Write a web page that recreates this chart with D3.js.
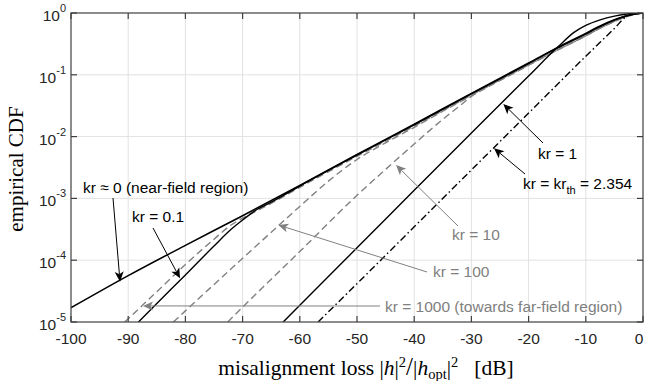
<!DOCTYPE html>
<html><head><meta charset="utf-8">
<script src="https://cdn.jsdelivr.net/npm/d3@7"></script>
<style>body{margin:0;background:#fff} svg{display:block}</style>
</head><body><svg id="c" width="645" height="381"></svg>
<script>
// ---- data (misalignment loss in dB, log10 of empirical CDF) ----
const xTickValues = [-100,-90,-80,-70,-60,-50,-40,-30,-20,-10,0];
const yTickExponents = [0,-1,-2,-3,-4,-5];

const lossNear = [-100,-90,-80,-70,-60,-50,-40,-30,-20,-15,-10,-7.5,-5,-2.5,0];
const logCdfNear = [-4.77,-4.25,-3.76,-3.28,-2.79,-2.29,-1.80,-1.30,-0.81,-0.56,-0.33,-0.21,-0.11,-0.035,0];

const lossKr01 = [-88.2,-85,-80,-75,-72,-70,-67.5,-65,-60,-50,-40,-30,-20,-15,-10,-7.5,-5,-2.5,0];
const logCdfKr01 = [-5,-4.70,-4.24,-3.77,-3.50,-3.35,-3.18,-3.06,-2.80,-2.30,-1.81,-1.31,-0.82,-0.57,-0.34,-0.22,-0.115,-0.037,0];

const lossKr1 = [-62.9,-60,-50,-40,-30,-20,-15,-12,-10,-7.5,-5,-2.5,0];
const logCdfKr1 = [-5,-4.73,-3.80,-2.87,-1.94,-1.02,-0.56,-0.31,-0.20,-0.11,-0.05,-0.013,0];

const lossKrTh = [-56.8,-50,-40,-30,-20,-10,-5,-2.8,-1.5,0];
const logCdfKrTh = [-5,-4.38,-3.46,-2.54,-1.62,-0.70,-0.25,-0.05,-0.015,0];

const lossKr10 = [-72.6,-70,-60,-50,-45,-40,-35,-32,-30,-25,-20,-15,-10,-7.5,-5,-2.5,0];
const logCdfKr10 = [-5,-4.76,-3.86,-2.95,-2.53,-2.12,-1.72,-1.50,-1.35,-1.09,-0.845,-0.60,-0.37,-0.245,-0.135,-0.047,0];

const lossKr100 = [-82.1,-80,-70,-60,-55,-50,-45,-40,-35,-30,-25,-20,-15,-10,-7.5,-5,-2.5,0];
const logCdfKr100 = [-5,-4.82,-3.97,-3.13,-2.72,-2.37,-2.10,-1.85,-1.59,-1.34,-1.09,-0.845,-0.60,-0.37,-0.245,-0.135,-0.047,0];

const lossKr1000 = [-90.6,-85,-80,-75,-72,-70,-65,-60,-50,-40,-30,-20,-15,-10,-7.5,-5,-2.5,0];
const logCdfKr1000 = [-5,-4.51,-4.07,-3.66,-3.43,-3.32,-3.08,-2.82,-2.32,-1.83,-1.33,-0.84,-0.60,-0.37,-0.245,-0.135,-0.047,0];

// ---- layout ----
const L = 71, R = 643, T = 13, B = 322;
const svg = d3.select("#c");
const x = d3.scaleLinear().domain([-100, 0]).range([L, R]);
const y = d3.scaleLog().domain([1e-5, 1]).range([B, T]);

const sans = "'Liberation Sans', Arial, sans-serif";
const serif = "'Liberation Serif', 'Times New Roman', serif";
const gray = "#808080";

// grid
const grid = svg.append("g").attr("stroke", "#e2e2e2").attr("stroke-width", 1);
xTickValues.slice(1, -1).forEach(v => grid.append("line")
  .attr("x1", x(v)).attr("x2", x(v)).attr("y1", T).attr("y2", B));
yTickExponents.slice(1, -1).forEach(e => grid.append("line")
  .attr("x1", L).attr("x2", R).attr("y1", y(10 ** e)).attr("y2", y(10 ** e)));

// clip
svg.append("clipPath").attr("id", "clip").append("rect")
  .attr("x", L).attr("y", T).attr("width", R - L).attr("height", B - T);

const line = d3.line().x(d => x(d[0])).y(d => y(10 ** d[1])).curve(d3.curveMonotoneX);
const zip = (a, b) => a.map((v, i) => [v, b[i]]);
const plot = svg.append("g").attr("clip-path", "url(#clip)").attr("fill", "none");

const series = [
  {lx: lossKr1000, ly: logCdfKr1000, c: gray, dash: "7,4", w: 1.4},
  {lx: lossKr100, ly: logCdfKr100, c: gray, dash: "7,4", w: 1.4},
  {lx: lossKr10, ly: logCdfKr10, c: gray, dash: "7,4", w: 1.4},
  {lx: lossKrTh, ly: logCdfKrTh, c: "#000", dash: "7,3,1.5,3", w: 1.4},
  {lx: lossKr1, ly: logCdfKr1, c: "#000", dash: null, w: 1.4},
  {lx: lossKr01, ly: logCdfKr01, c: "#000", dash: null, w: 1.4},
  {lx: lossNear, ly: logCdfNear, c: "#000", dash: null, w: 1.6},
];
series.forEach(s => plot.append("path")
  .attr("d", line(zip(s.lx, s.ly)))
  .attr("stroke", s.c).attr("stroke-width", s.w)
  .attr("stroke-dasharray", s.dash));

// ---- annotations ----
function arrow(x1, y1, tipL, tipLog, color) {
  const x2 = x(tipL), y2 = y(10 ** tipLog);
  const ang = Math.atan2(y2 - y1, x2 - x1);
  const len = 10, hw = 4.5, notch = 2.5;
  const ux = Math.cos(ang), uy = Math.sin(ang);
  const bx = x2 - ux * len, by = y2 - uy * len;
  const nx = x2 - ux * (len - notch), ny = y2 - uy * (len - notch);
  svg.append("line").attr("x1", x1).attr("y1", y1).attr("x2", nx).attr("y2", ny)
    .attr("stroke", color).attr("stroke-width", 1);
  const p = [[x2, y2], [bx - uy * hw, by + ux * hw], [nx, ny], [bx + uy * hw, by - ux * hw]];
  svg.append("path").attr("d", "M" + p.map(q => q.join(",")).join("L") + "Z").attr("fill", color);
}
function label(tx, ty, txt, color) {
  return svg.append("text").attr("x", tx).attr("y", ty).attr("font-family", sans)
    .attr("font-size", 15.5).attr("fill", color).text(txt);
}

label(83, 193, "kr \u2248 0 (near-field region)", "#000");
arrow(113, 198, -91.43, -4.348, "#000");
label(132, 222, "kr = 0.1", "#000");
arrow(153, 228, -80.94, -4.293, "#000");
label(538, 159, "kr = 1", "#000");
arrow(543, 143, -24.42, -1.472, "#000");
const th = label(523, 189, "kr = kr", "#000");
th.append("tspan").attr("font-size", 11).attr("dy", 5).text("th");
th.append("tspan").attr("dy", -5).text(" = 2.354");
arrow(525, 174, -26.05, -2.189, "#000");

label(452, 240, "kr = 10", gray);
arrow(458, 226, -43.18, -2.46, gray);
label(433, 277, "kr = 100", gray);
arrow(427, 272, -63.76, -3.43, gray);
label(385, 312, "kr = 1000 (towards far-field region)", gray);
arrow(380, 306, -87.41, -4.74, gray);

// ---- axes box & ticks ----
const ax = svg.append("g").attr("stroke", "#404040").attr("stroke-width", 1.2);
ax.append("rect").attr("x", L).attr("y", T).attr("width", R - L).attr("height", B - T).attr("fill", "none");
const tl = 6;
xTickValues.forEach(v => {
  ax.append("line").attr("x1", x(v)).attr("x2", x(v)).attr("y1", B).attr("y2", B - tl);
  ax.append("line").attr("x1", x(v)).attr("x2", x(v)).attr("y1", T).attr("y2", T + tl);
});
yTickExponents.forEach(e => {
  ax.append("line").attr("x1", L).attr("x2", L + tl).attr("y1", y(10 ** e)).attr("y2", y(10 ** e));
  ax.append("line").attr("x1", R).attr("x2", R - tl).attr("y1", y(10 ** e)).attr("y2", y(10 ** e));
});

// tick labels (last one nudged so it stays inside the picture)
xTickValues.forEach(v => svg.append("text").attr("x", Math.min(x(v), 639)).attr("y", 344)
  .attr("text-anchor", "middle").attr("font-family", sans).attr("font-size", 15.5)
  .attr("fill", "#262626").text(v));
yTickExponents.forEach(e => {
  const t = svg.append("text").attr("x", 66).attr("y", y(10 ** e) + 8)
    .attr("text-anchor", "end").attr("font-family", sans).attr("font-size", 15.5).attr("fill", "#262626");
  t.append("tspan").text("10");
  t.append("tspan").attr("font-size", 11).attr("dy", -9).text(e);
});

// axis titles
svg.append("text").attr("transform", `translate(23,169) rotate(-90)`)
  .attr("text-anchor", "middle").attr("font-family", serif).attr("font-size", 21)
  .attr("fill", "#000").text("empirical CDF");

const xl = svg.append("text").attr("x", 366).attr("y", 375).attr("text-anchor", "middle")
  .attr("font-family", serif).attr("font-size", 21.5).attr("fill", "#000");
xl.append("tspan").text("misalignment loss |");
xl.append("tspan").attr("font-style", "italic").text("h");
xl.append("tspan").text("|");
xl.append("tspan").attr("font-size", 14.5).attr("dy", -8).text("2");
xl.append("tspan").attr("dy", 8).attr("font-size", 25).text("/");
xl.append("tspan").text("|");
xl.append("tspan").attr("font-style", "italic").text("h");
xl.append("tspan").attr("font-size", 14.5).attr("dy", 4).text("opt");
xl.append("tspan").attr("dy", -4).text("|");
xl.append("tspan").attr("font-size", 14.5).attr("dy", -8).text("2");
xl.append("tspan").attr("dy", 8).text("\u2002 [dB]");
</script></body></html>
